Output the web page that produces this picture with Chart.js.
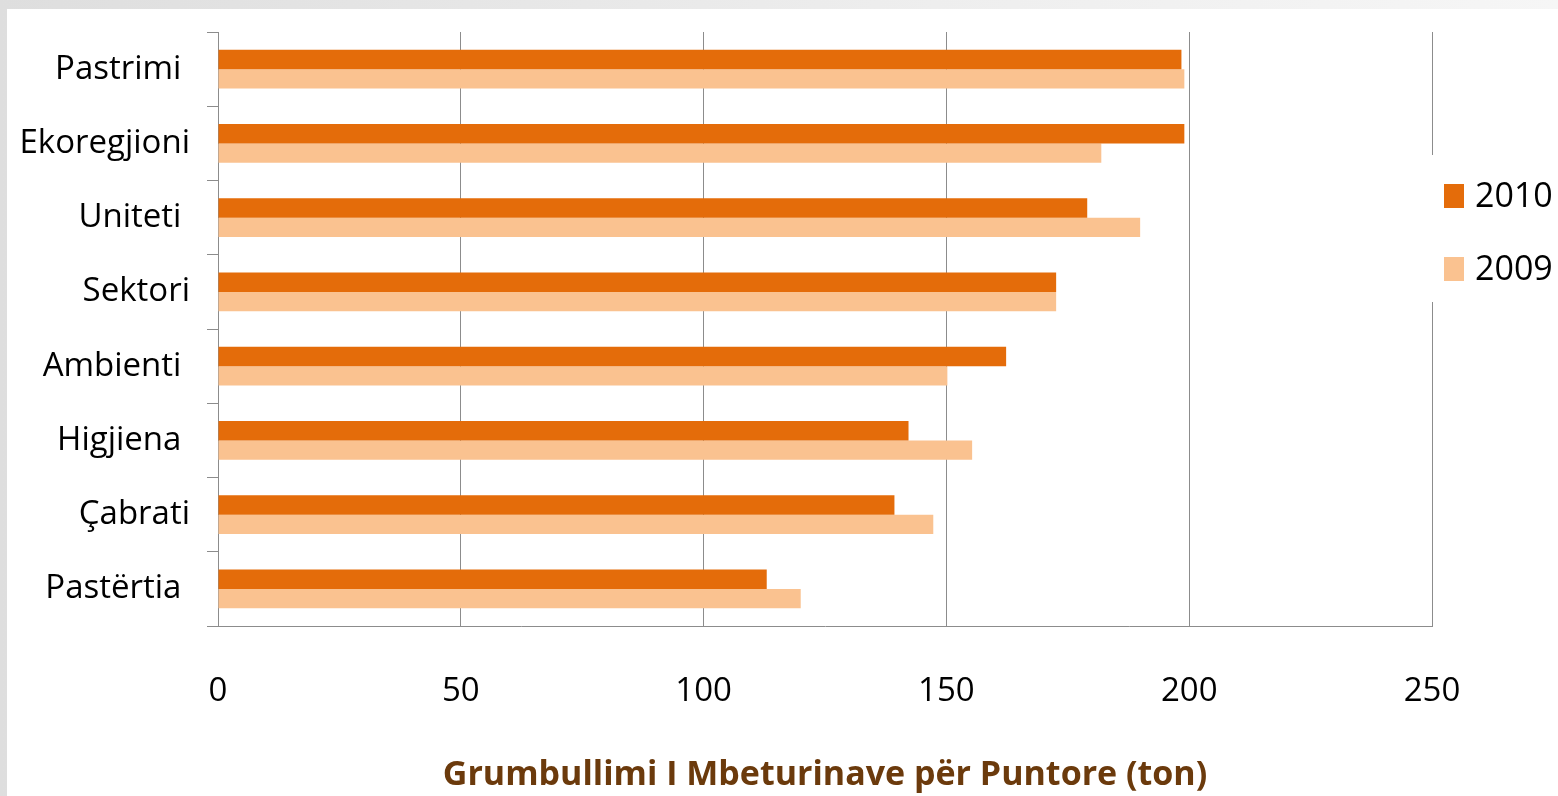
<!DOCTYPE html>
<html>
<head>
<meta charset="utf-8">
<script src="https://cdn.jsdelivr.net/npm/chart.js@4/dist/chart.umd.min.js"></script>
<style>
    html, body { margin: 0; padding: 0; }
    body {
        width: 1558px;
        height: 796px;
        overflow: hidden;
        background: linear-gradient(to right, #dedede, #eeeeee 60%, #f6f6f6);
        position: relative;
    }
    #card {
        position: absolute;
        left: 7px;
        top: 9px;
        right: 0;
        bottom: 0;
        background: #ffffff;
    }
    #chart {
        position: absolute;
        left: 0;
        top: 0;
    }
</style>
</head>
<body>
<div id="card"></div>
<canvas id="chart" width="1558" height="796"></canvas>
<script>
// categories, top to bottom
let categories = ['Pastrimi ', 'Ekoregjioni', 'Uniteti ', 'Sektori', 'Ambienti ', 'Higjiena ', 'Çabrati', 'Pastërtia '];
let values2010 = [198.4, 199.0, 179.0, 172.6, 162.3, 142.2, 139.3, 113.0];
let values2009 = [199.0, 181.9, 189.9, 172.6, 150.2, 155.3, 147.3, 120.0];
let xTicks = [0, 50, 100, 150, 200, 250];
let seriesNames = ['2010', '2009'];
let axisTitle = 'Grumbullimi I Mbeturinave për Puntore (ton)';

let darkOrange = '#E46C0A';
let lightOrange = '#FAC290';
let gridColor = '#8c8c8c';
let fontFamily = '"Open Sans", "Noto Sans", sans-serif';

// legend drawn by hand at the right, over a white box that breaks the last gridline
let sideLegend = {
    id: 'sideLegend',
    afterDraw(chart) {
        let ctx = chart.ctx;
        ctx.save();
        ctx.fillStyle = '#ffffff';
        ctx.fillRect(chart.chartArea.right - 2, 155, 130, 147);
        ctx.font = '34px ' + fontFamily;
        ctx.textBaseline = 'middle';
        ctx.textAlign = 'left';
        let ys = [196, 269];
        chart.data.datasets.forEach((ds, i) => {
            ctx.fillStyle = ds.backgroundColor;
            ctx.fillRect(1444, ys[i] - 12, 20, 24);
            ctx.fillStyle = '#000000';
            ctx.fillText(ds.label, 1475, ys[i] + 1);
        });
        ctx.restore();
    }
};

let ctx = document.getElementById('chart').getContext('2d');
new Chart(ctx, {
    type: 'bar',
    data: {
        labels: categories,
        datasets: [
            {
                label: seriesNames[0],
                data: values2010,
                backgroundColor: darkOrange,
                borderWidth: 0,
                categoryPercentage: 0.52,
                barPercentage: 1.0
            },
            {
                label: seriesNames[1],
                data: values2009,
                backgroundColor: lightOrange,
                borderWidth: 0,
                categoryPercentage: 0.52,
                barPercentage: 1.0
            }
        ]
    },
    options: {
        indexAxis: 'y',
        responsive: false,
        animation: false,
        events: [],
        layout: {
            padding: { top: 32, right: 126, left: 0, bottom: 0 }
        },
        plugins: {
            legend: { display: false },
            tooltip: { enabled: false }
        },
        scales: {
            x: {
                type: 'linear',
                min: 0,
                max: 250,
                afterBuildTicks: (scale) => {
                    scale.ticks = xTicks.map(v => ({ value: v }));
                },
                afterFit: (scale) => { scale.height = 170; },
                grid: {
                    color: gridColor,
                    lineWidth: 1,
                    drawTicks: false
                },
                border: { display: true, color: gridColor, width: 1 },
                ticks: {
                    color: '#000000',
                    padding: 46,
                    font: { family: fontFamily, size: 33 }
                },
                title: {
                    display: true,
                    text: axisTitle,
                    color: '#6B3A0C',
                    padding: { top: 0, bottom: 0 },
                    font: { family: fontFamily, size: 34, weight: 'bold' }
                }
            },
            y: {
                afterFit: (scale) => {
                    scale.width = 218;
                    // no extra room for half-labels at the ends
                    scale.paddingTop = 0;
                    scale.paddingBottom = 0;
                },
                grid: {
                    drawOnChartArea: false,
                    drawTicks: true,
                    tickLength: 11,
                    color: gridColor,
                    offset: true
                },
                border: { display: true, color: gridColor, width: 1 },
                ticks: {
                    color: '#000000',
                    padding: 17,
                    font: { family: fontFamily, size: 33 }
                }
            }
        }
    },
    plugins: [sideLegend]
});
</script>
</body>
</html>
